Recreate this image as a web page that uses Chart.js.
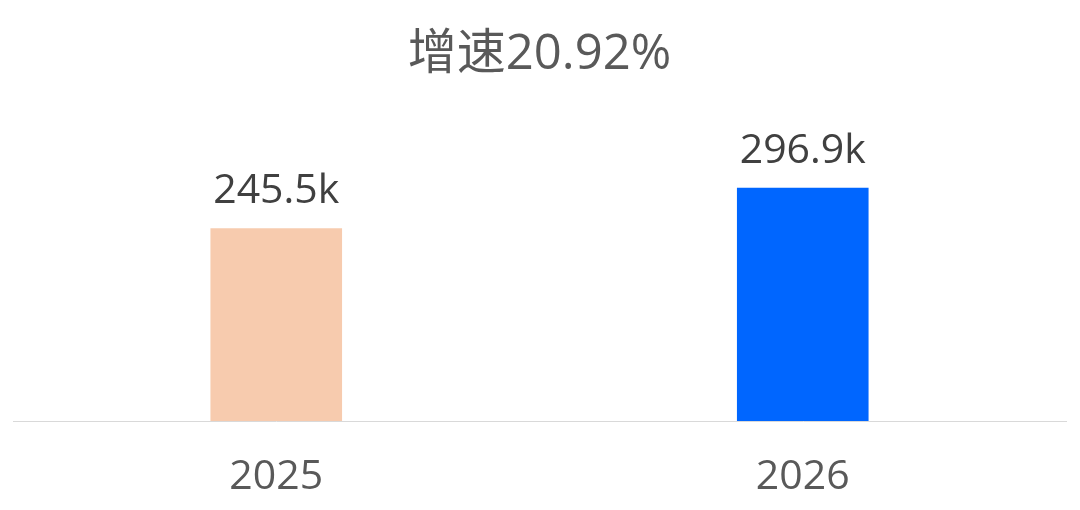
<!DOCTYPE html>
<html>
<head>
<meta charset="utf-8">
<script src="https://cdn.jsdelivr.net/npm/chart.js@4/dist/chart.umd.min.js"></script>
<style>
html,body{margin:0;padding:0;background:#fff;}
#wrap{width:1080px;height:510px;position:relative;}
</style>
</head>
<body>
<div id="wrap"><canvas id="c" width="1080" height="510"></canvas></div>
<script>
const titleText = "增速20.92%";
const categories = ["2025", "2026"];
const values = [245.5, 296.9];
const valueLabels = ["245.5k", "296.9k"];
const barColors = ["#F7CBAE", "#0066FF"];

const FONT = "'Open Sans', 'Noto Sans CJK SC', sans-serif";

const valueLabelPlugin = {
  id: 'valueLabels',
  afterDatasetsDraw(chart) {
    const ctx = chart.ctx;
    const meta = chart.getDatasetMeta(0);
    ctx.save();
    ctx.font = "41px " + FONT;
    ctx.fillStyle = "#404040";
    ctx.textAlign = "center";
    ctx.textBaseline = "alphabetic";
    meta.data.forEach((bar, i) => {
      ctx.fillText(valueLabels[i], bar.x, bar.y - 25);
    });
    ctx.restore();
  }
};

new Chart(document.getElementById('c'), {
  type: 'bar',
  data: {
    labels: categories,
    datasets: [{
      data: values,
      backgroundColor: barColors,
      borderWidth: 0,
      barPercentage: 0.25,
      categoryPercentage: 1.0
    }]
  },
  options: {
    responsive: false,
    animation: false,
    devicePixelRatio: 1,
    layout: { padding: { left: 13, right: 14, top: 0, bottom: 0 } },
    plugins: {
      legend: { display: false },
      tooltip: { enabled: false },
      title: {
        display: true,
        text: titleText,
        color: "#595959",
        font: { family: FONT, size: 49, weight: 'normal' },
        padding: { top: 26, bottom: 22 }
      }
    },
    scales: {
      x: {
        grid: { display: false, drawTicks: false },
        border: { display: true, color: "#D9D9D9", width: 1 },
        ticks: {
          color: "#595959",
          font: { family: FONT, size: 41 },
          padding: 32
        },
        afterFit(scale) { scale.height = 89; }
      },
      y: {
        display: false,
        min: 0,
        max: 400
      }
    }
  },
  plugins: [valueLabelPlugin]
});
</script>
</body>
</html>
